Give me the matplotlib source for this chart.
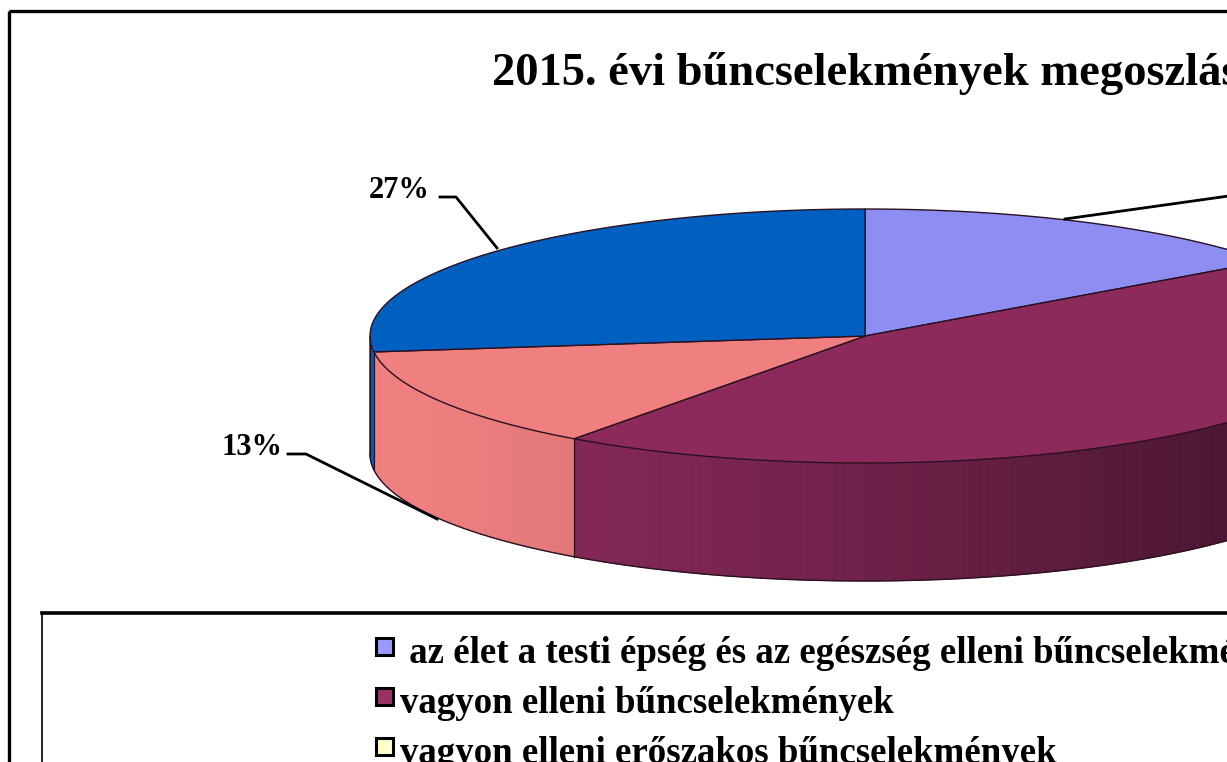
import numpy as np
import matplotlib
matplotlib.use("Agg")
import matplotlib.pyplot as plt
from matplotlib.patches import Polygon, Rectangle
from matplotlib.colors import to_rgb

# ---- data ----
title = "2015. évi bűncselekmények megoszlása"
categories = [
    " az élet a testi épség és az egészség elleni bűncselekmények",
    "vagyon elleni bűncselekmények",
    "vagyon elleni erőszakos bűncselekmények",
    "egyéb bűncselekmények",
    "közrend elleni bűncselekmények",
]
values = [15, 45, 0, 13, 27]
labels = ["15%", "45%", "", "13%", "27%"]
top_colors = ["#8E8EF2", "#8C2A5C", "#FFFFCC", "#F08080", "#0060C2"]
legend_colors = ["#9999FF", "#993366", "#FFFFCC", "#FF8080", "#0066CC"]

# ---- figure ----
W, H = 1227, 762
fig = plt.figure(figsize=(W / 100, H / 100), dpi=100)
ax = fig.add_axes([0, 0, 1, 1])
ax.set_xlim(0, W)
ax.set_ylim(H, 0)
ax.axis("off")

serif = ["Liberation Serif", "DejaVu Serif"]

# outer frame
ax.add_patch(Rectangle((8.5, 11), 1400, 900, fill=False, ec="black", lw=2.4, zorder=1))

ax.text(492, 85, title, fontsize=33.5, fontweight="bold", family=serif,
        ha="left", va="baseline", zorder=10)

# ---- 3D pie geometry ----
cx, cy, A, B, D = 865, 336, 495, 127, 118


def pt(t):
    r = np.radians(t)
    return cx + A * np.cos(r), cy - B * np.sin(r)


total = float(sum(values))
# slices go clockwise from 12 o'clock
starts, ends = [], []
cur = 90.0
for v in values:
    span = 360.0 * v / total
    starts.append(cur - span)
    ends.append(cur)
    cur -= span

edge_c = "#2a1020"

# side walls (front half: 180..360 deg)
for i, v in enumerate(values):
    if v == 0:
        continue
    t0, t1 = starts[i], ends[i]
    for shift in (-360, 0, 360):
        a0, a1 = max(t0 + shift, 180), min(t1 + shift, 360)
        if a1 <= a0:
            continue
        n = max(2, int((a1 - a0) / 1.0))
        ts = np.linspace(a0, a1, n + 1)
        base = np.array(to_rgb(top_colors[i]))
        for k in range(n):
            tm = 0.5 * (ts[k] + ts[k + 1])
            s = (np.cos(np.radians(tm)) + 1) / 2
            f = 1.0 - 0.56 * s ** 1.4
            col = np.clip(base * f, 0, 1)
            x0, y0 = pt(ts[k])
            x1, y1 = pt(ts[k + 1])
            poly = [(x0, y0), (x1, y1), (x1, y1 + D), (x0, y0 + D)]
            ax.add_patch(Polygon(poly, closed=True, fc=col, ec=col, lw=0.6, zorder=3))
        tt = np.linspace(a0, a1, 200)
        xs, ys = pt(tt)
        ax.plot(xs, ys + D, color=edge_c, lw=1.0, zorder=4)
        for a in (a0, a1):
            if 180 < a < 360:
                x, y = pt(a)
                ax.plot([x, x], [y, y + D], color=edge_c, lw=0.8, zorder=4)

# left outline
xl, yl = pt(180)
ax.plot([xl, xl], [yl, yl + D], color=edge_c, lw=0.9, zorder=4)

# top faces
for i, v in enumerate(values):
    if v == 0:
        continue
    tt = np.linspace(starts[i], ends[i], 300)
    xs, ys = pt(tt)
    poly = [(cx, cy)] + list(zip(xs, ys))
    ax.add_patch(Polygon(poly, closed=True, fc=top_colors[i], ec=edge_c, lw=1.0,
                         zorder=5, joinstyle="round"))

# ---- labels with leader lines ----
lab_fs = 22
# 27% (blue)
ax.text(430, 198, labels[4], fontsize=lab_fs, fontweight="bold", family=serif,
        ha="right", va="baseline", zorder=10)
ax.plot([440, 456, 497], [197, 197, 248], color="black", lw=2, zorder=10)
# 13% (salmon)
ax.text(282, 455, labels[3], fontsize=lab_fs, fontweight="bold", family=serif,
        ha="right", va="baseline", zorder=10)
ax.plot([288, 306, 437], [454, 454, 519], color="black", lw=2, zorder=10)
# 15% (lavender) - continues off to the right
ax.plot([1065, 1250, 1265], [219, 193, 193], color="black", lw=2, zorder=10)
ax.text(1275, 200, labels[0], fontsize=lab_fs, fontweight="bold", family=serif,
        ha="left", va="baseline", zorder=10)

# ---- legend ----
ax.add_patch(Rectangle((42, 613), 1400, 400, fill=False, ec="black", lw=1.2, zorder=8))
ax.plot([42, 1300], [613, 613], color="black", lw=2.6, zorder=8)
leg_fs = 26.6
y0 = 646
for i, name in enumerate(categories):
    yc = y0 + 50 * i
    ax.add_patch(Rectangle((376, yc - 8), 17, 17, fc=legend_colors[i], ec="black",
                           lw=2.2, zorder=9))
    ax.text(400, yc + 17, name, fontsize=leg_fs, fontweight="bold", family=serif,
            ha="left", va="baseline", zorder=9)

fig.savefig("out.png", dpi=100)
